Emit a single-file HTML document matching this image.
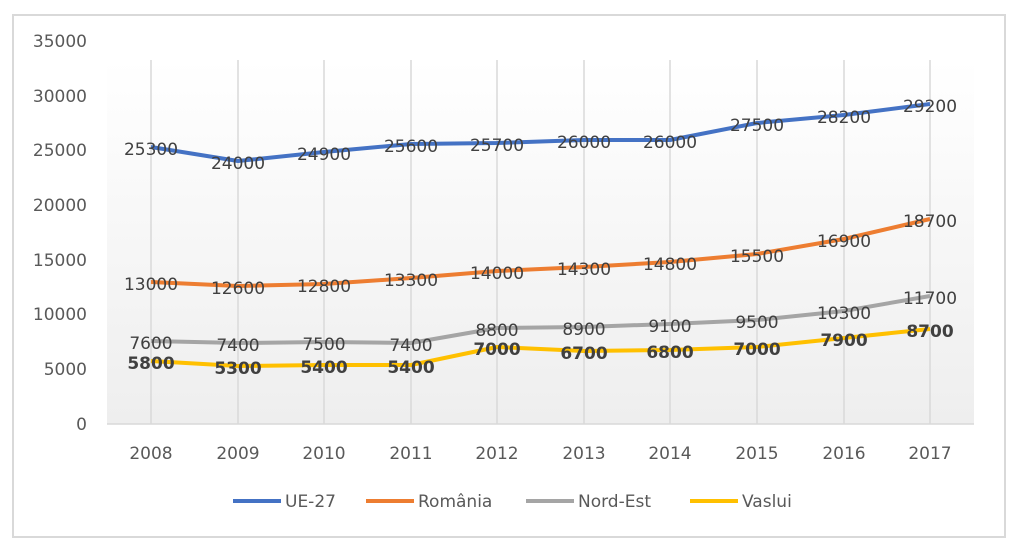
<!DOCTYPE html>
<html><head><meta charset="utf-8"><style>
body{margin:0;background:#fff;width:1024px;height:548px;overflow:hidden}
</style></head><body>
<svg width="1024" height="548" xmlns="http://www.w3.org/2000/svg" font-family="DejaVu Sans, Liberation Sans, sans-serif">
<defs><linearGradient id="g" x1="0" y1="0" x2="0" y2="1"><stop offset="0" stop-color="#ffffff"/><stop offset="1" stop-color="#eeeeee"/></linearGradient></defs>
<rect x="13" y="15" width="992" height="522" fill="#fff" stroke="#d9d9d9" stroke-width="2"/>
<rect x="107" y="60" width="867" height="364" fill="url(#g)"/>
<g stroke="#d9d9d9" stroke-width="1.5">
<line x1="151" y1="60" x2="151" y2="424"/><line x1="238" y1="60" x2="238" y2="424"/><line x1="324" y1="60" x2="324" y2="424"/><line x1="411" y1="60" x2="411" y2="424"/><line x1="497" y1="60" x2="497" y2="424"/><line x1="584" y1="60" x2="584" y2="424"/><line x1="670" y1="60" x2="670" y2="424"/><line x1="757" y1="60" x2="757" y2="424"/><line x1="844" y1="60" x2="844" y2="424"/><line x1="930" y1="60" x2="930" y2="424"/>
<line x1="107" y1="424" x2="974" y2="424"/>
</g>
<g font-size="17" fill="#595959" text-anchor="end">
<text x="87" y="47">35000</text><text x="87" y="102">30000</text><text x="87" y="156">25000</text><text x="87" y="211">20000</text><text x="87" y="266">15000</text><text x="87" y="320">10000</text><text x="87" y="375">5000</text><text x="87" y="430">0</text>
</g>
<g font-size="17" fill="#595959" text-anchor="middle">
<text x="151" y="459">2008</text><text x="238" y="459">2009</text><text x="324" y="459">2010</text><text x="411" y="459">2011</text><text x="497" y="459">2012</text><text x="584" y="459">2013</text><text x="670" y="459">2014</text><text x="757" y="459">2015</text><text x="844" y="459">2016</text><text x="930" y="459">2017</text>
</g>
<g fill="none" stroke-width="4" stroke-linejoin="round">
<polyline stroke="#4472c4" points="151,147 238,161 324,152 411,144 497,143 584,140 670,140 757,123 844,115 930,104"/>
<polyline stroke="#ed7d31" points="151,282 238,286 324,284 411,278 497,271 584,267 670,262 757,254 844,239 930,219"/>
<polyline stroke="#a5a5a5" points="151,341 238,343 324,342 411,343 497,328 584,327 670,324 757,320 844,311 930,296"/>
<polyline stroke="#ffc000" points="151,361 238,366 324,365 411,365 497,347 584,351 670,350 757,347 844,338 930,329"/>
</g>
<g font-size="17" fill="#404040" text-anchor="middle">
<text x="151" y="155">25300</text><text x="238" y="169">24000</text><text x="324" y="160">24900</text><text x="411" y="152">25600</text><text x="497" y="151">25700</text><text x="584" y="148">26000</text><text x="670" y="148">26000</text><text x="757" y="131">27500</text><text x="844" y="123">28200</text><text x="930" y="112">29200</text>
<text x="151" y="290">13000</text><text x="238" y="294">12600</text><text x="324" y="292">12800</text><text x="411" y="286">13300</text><text x="497" y="279">14000</text><text x="584" y="275">14300</text><text x="670" y="270">14800</text><text x="757" y="262">15500</text><text x="844" y="247">16900</text><text x="930" y="227">18700</text>
<text x="151" y="349">7600</text><text x="238" y="351">7400</text><text x="324" y="350">7500</text><text x="411" y="351">7400</text><text x="497" y="336">8800</text><text x="584" y="335">8900</text><text x="670" y="332">9100</text><text x="757" y="328">9500</text><text x="844" y="319">10300</text><text x="930" y="304">11700</text>
</g>
<g font-size="17" font-weight="bold" fill="#404040" text-anchor="middle">
<text x="151" y="369">5800</text><text x="238" y="374">5300</text><text x="324" y="373">5400</text><text x="411" y="373">5400</text><text x="497" y="355">7000</text><text x="584" y="359">6700</text><text x="670" y="358">6800</text><text x="757" y="355">7000</text><text x="844" y="346">7900</text><text x="930" y="337">8700</text>
</g>
<g stroke-width="4">
<line x1="233" y1="501" x2="281" y2="501" stroke="#4472c4"/>
<line x1="366" y1="501" x2="414" y2="501" stroke="#ed7d31"/>
<line x1="526" y1="501" x2="574" y2="501" stroke="#a5a5a5"/>
<line x1="690" y1="501" x2="738" y2="501" stroke="#ffc000"/>
</g>
<g font-size="17" fill="#595959">
<text x="285" y="507">UE-27</text><text x="418" y="507">România</text><text x="578" y="507">Nord-Est</text><text x="742" y="507">Vaslui</text>
</g>
</svg>
</body></html>
